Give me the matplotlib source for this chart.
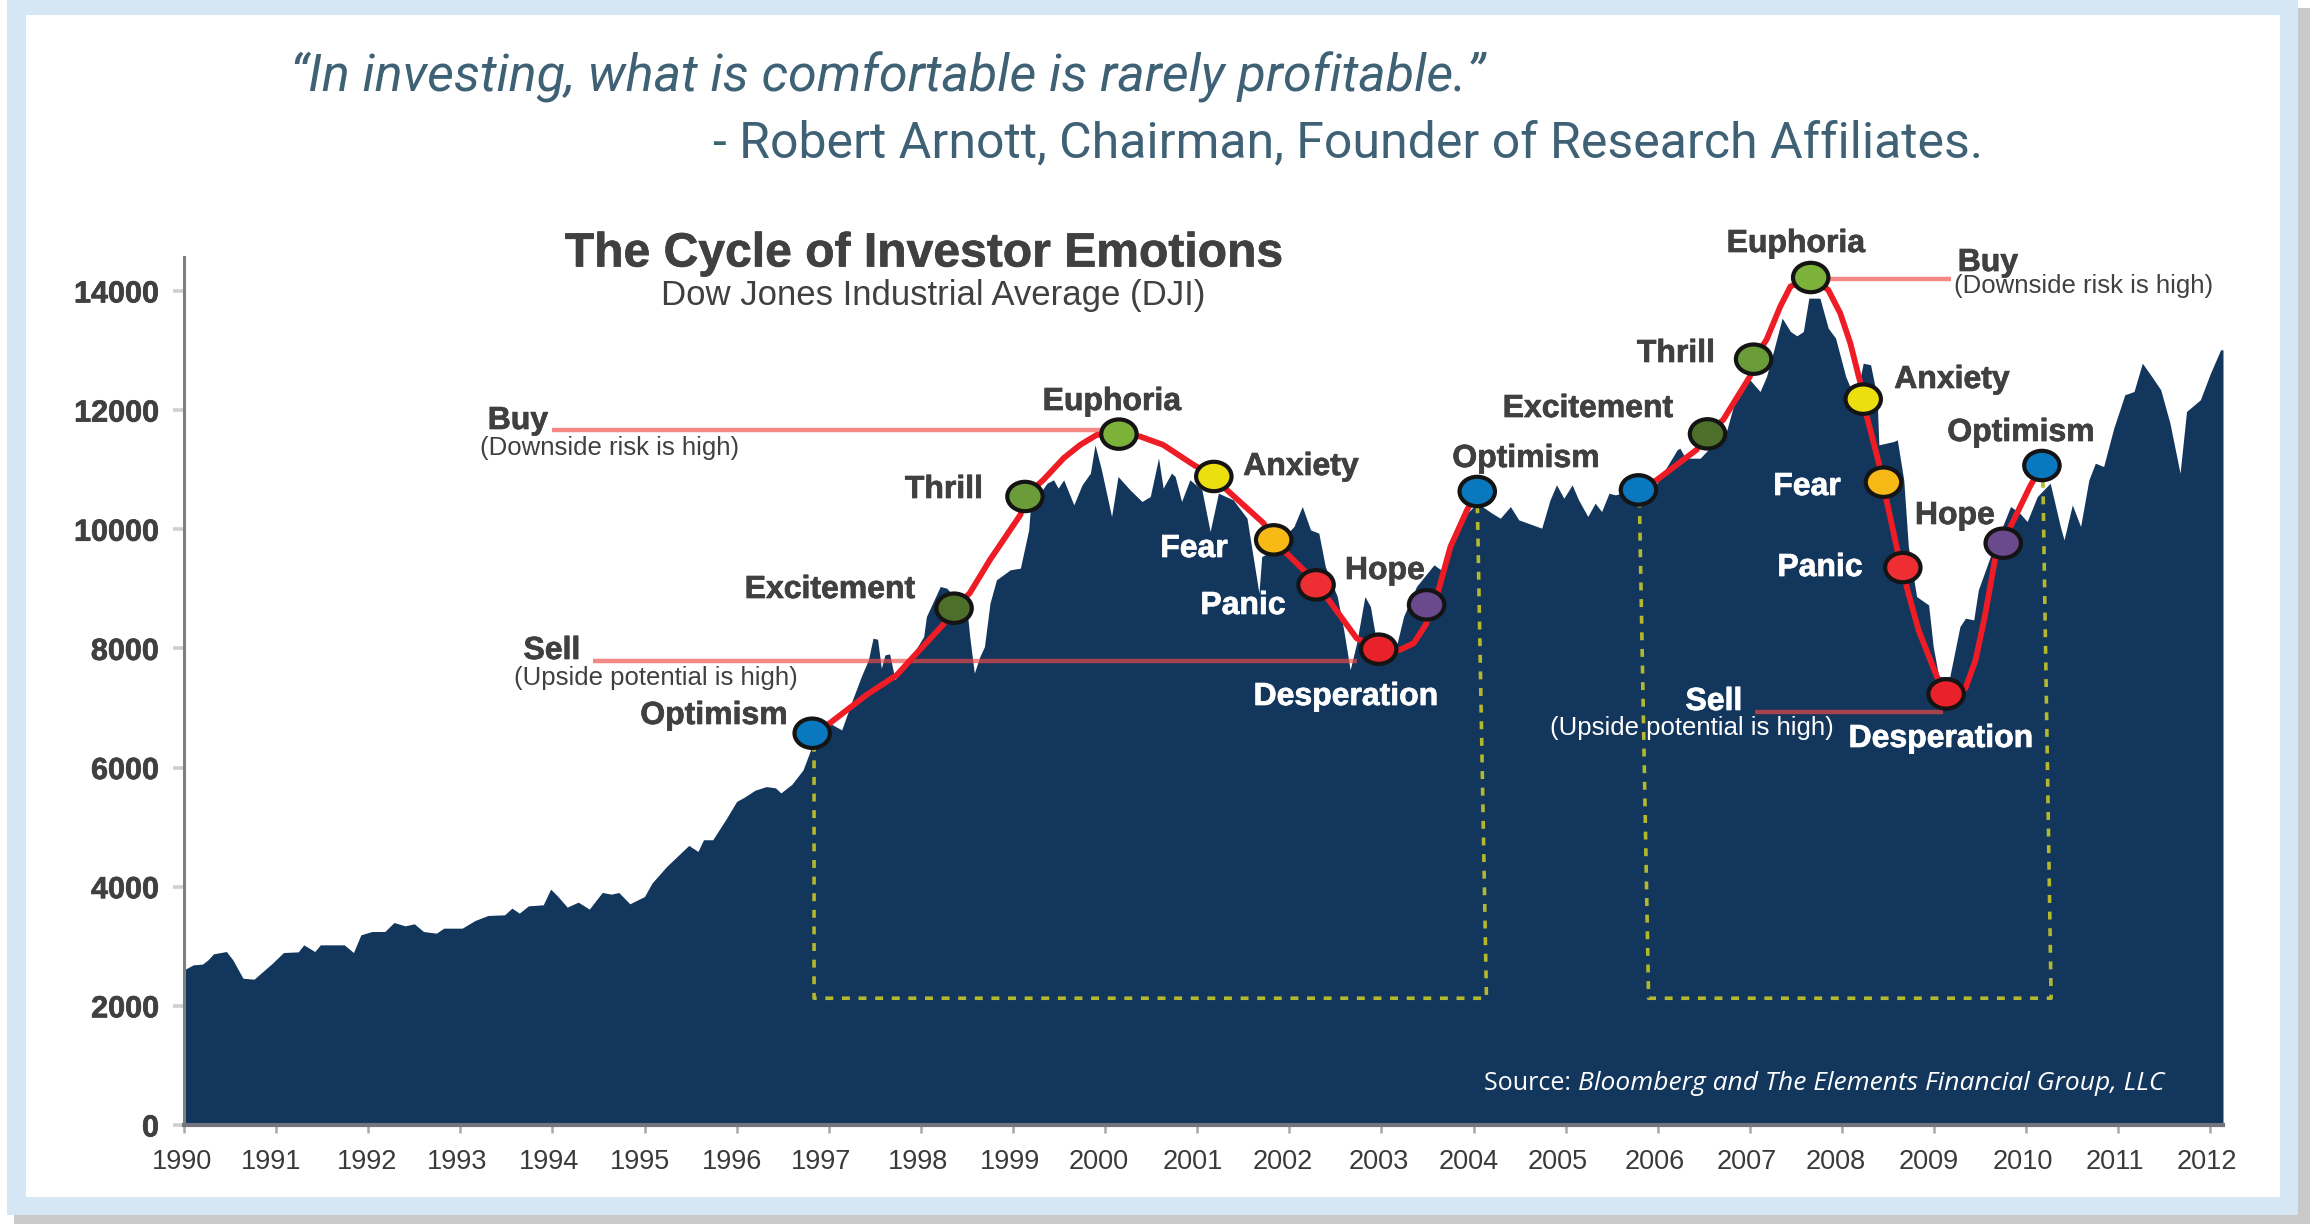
import matplotlib
matplotlib.use('Agg')
import matplotlib.pyplot as plt
import matplotlib.patheffects as pe
from matplotlib.patches import Rectangle
from matplotlib.path import Path
from matplotlib.transforms import Affine2D, ScaledTranslation

W, H = 2310, 1224

dji_years = [1990.0,1990.1,1990.2,1990.26,1990.32,1990.46,1990.53,1990.64,1990.76,1990.96,1991.08,1991.24,1991.3,1991.42,1991.48,1991.74,1991.84,1991.92,
 1992.04,1992.18,1992.28,1992.4,1992.5,1992.6,1992.74,1992.82,1993.02,1993.16,1993.3,1993.48,1993.56,1993.64,1993.74,1993.9,1993.98,
 1994.06,1994.16,1994.28,1994.4,1994.54,1994.64,1994.72,1994.84,1995.0,1995.08,1995.24,1995.48,1995.58,1995.64,1995.74,1995.88,1996.0,
 1996.08,1996.2,1996.32,1996.42,1996.48,1996.6,1996.72,1996.83,1997.01,1997.14,1997.25,1997.36,1997.43,1997.48,1997.53,1997.57,1997.61,1997.66,1997.72,1997.79,1997.92,
 1998.03,1998.06,1998.21,1998.28,1998.5,1998.53,1998.58,1998.64,1998.69,1998.75,1998.82,1998.97,1999.08,1999.17,1999.19,1999.37,1999.44,1999.49,1999.55,1999.66,1999.75,1999.84,1999.89,1999.96,
 2000.07,2000.14,2000.27,2000.4,2000.49,2000.58,2000.63,2000.72,2000.76,2000.83,2000.92,2001.05,2001.14,2001.23,2001.39,2001.54,2001.67,2001.7,2001.77,
 2002.05,2002.14,2002.23,2002.32,2002.39,2002.52,2002.59,2002.66,2002.73,2002.82,2002.88,2002.93,2003.17,2003.24,2003.38,2003.57,2003.67,2003.75,2003.93,
 2004.04,2004.2,2004.29,2004.4,2004.49,2004.74,2004.83,2004.9,2004.98,2005.07,2005.14,2005.24,2005.32,2005.39,2005.47,2005.54,2005.99,
 2006.21,2006.24,2006.3,2006.46,2006.75,2006.82,2007.0,2007.11,2007.18,2007.26,2007.35,2007.44,2007.51,2007.58,2007.64,2007.76,2007.85,2007.93,
 2008.04,2008.13,2008.2,2008.23,2008.31,2008.38,2008.4,2008.56,2008.6,2008.67,2008.72,2008.81,2008.94,2008.99,2009.05,2009.17,2009.28,2009.34,2009.43,2009.48,2009.61,2009.83,2009.93,
 2010.01,2010.12,2010.26,2010.37,2010.41,2010.5,2010.59,2010.68,2010.75,2010.84,2010.95,2011.07,2011.17,2011.26,2011.35,2011.46,2011.56,2011.67,2011.74,2011.89,2012.0,2012.11,2012.136]
dji_values = [2604,2688,2700,2772,2873,2912,2772,2464,2447,2716,2895,2906,3024,2912,3024,3024,2895,3192,
 3248,3248,3399,3343,3377,3248,3220,3304,3304,3433,3517,3528,3640,3556,3679,3696,3959,
 3836,3657,3741,3623,3903,3875,3903,3713,3836,4060,4340,4693,4592,4788,4788,5124,5432,
 5500,5620,5680,5660,5574,5720,5960,6408,6744,6632,7108,7556,7807,8171,8154,7667,7891,7908,7472,7695,7919,
 8199,8535,9039,9011,8647,8199,7584,7863,8031,8759,9151,9319,9347,9990,10382,10774,10830,10690,10830,10410,10746,10942,11417,10998,
 10214,10886,10662,10466,10550,11194,10690,10942,10886,10466,10830,10662,9962,10606,10494,10186,8927,9542,9598,
 10046,10382,9990,9934,9375,8871,8311,7640,8087,8871,8703,8255,8087,8535,9039,9403,9291,9766,10270,
 10438,10270,10185,10381,10158,10018,10493,10745,10521,10745,10493,10214,10437,10297,10605,10577,10773,
 11333,11361,11193,11193,11669,12060,12508,12312,12564,13012,13544,13320,13247,13320,13879,13879,13376,13208,
 12564,12228,12564,12788,12760,12229,11417,11473,11501,10829,9710,8870,8730,8031,7527,7527,8367,8507,8479,8982,9542,10382,10270,
 10130,10550,10773,10046,9822,10410,10046,10829,11109,11053,11697,12257,12313,12788,12592,12341,11781,10941,11977,12173,12620,13012,13012]

cycle1_years = [1996.82,1997.01,1997.41,1997.74,1997.92,1998.24,1998.36,1998.53,1998.75,1999.08,1999.13,1999.33,1999.55,1999.73,1999.91,2000.15,2000.38,2000.63,2000.96,2001.18,2001.32,2001.72,2001.83,2001.97,2002.19,2002.29,2002.44,2002.73,2002.97,2003.2,2003.35,2003.48,2003.62,2003.75,2003.93,2004.04]
cycle1_values = [6576,6744,7220,7556,7863,8395,8675,8927,9487,10242,10550,10830,11194,11417,11585,11597,11557,11417,11082,10886,10662,10102,9822,9598,9263,9067,8787,8171,7987,7975,8087,8395,8983,9710,10326,10634]
cycle2_years = [2005.79,2005.99,2006.42,2006.54,2006.71,2007.0,2007.04,2007.18,2007.33,2007.44,2007.66,2007.85,2007.98,2008.09,2008.2,2008.27,2008.4,2008.49,2008.6,2008.72,2008.83,2009.03,2009.13,2009.34,2009.45,2009.55,2009.66,2009.75,2009.83,2010.04,2010.17]
cycle2_values = [10661,10829,11333,11601,11837,12564,12855,13180,13740,14075,14226,14019,13628,13124,12452,11893,11109,10438,9654,8926,8311,7527,7236,7331,7807,8535,9486,9766,10046,10717,11070]

stage_names = ['Optimism','Excitement','Thrill','Euphoria','Anxiety','Fear','Panic','Desperation','Hope','Optimism']
stage_colors = ['#0a78bf','#4d6f2a','#6a9c3a','#7db23a','#ecdf10','#f7b916','#ee2e33','#e8212a','#6a4a8c','#0a78bf']
stage1_years = [1996.82,1998.36,1999.13,2000.15,2001.18,2001.83,2002.29,2002.97,2003.49,2004.04]
stage1_values = [6576,8675,10550,11597,10886,9822,9067,7987,8731,10634]
stage2_years = [2005.79,2006.54,2007.04,2007.66,2008.23,2008.45,2008.66,2009.13,2009.75,2010.17]
stage2_values = [10661,11601,12855,14226,12184,10790,9357,7236,9766,11070]

year_ticks = list(range(1990, 2013))
value_ticks = [0,2000,4000,6000,8000,10000,12000,14000]

NAVY = '#13365d'
DARK = '#404040'
QUOTE = '#3f6175'
OLIVE = '#b3b82c'
RED = '#ee1c25'

fig = plt.figure(figsize=(W/100, H/100), dpi=100, facecolor='white')

def frect(x0, y0, x1, y1, color):
    fig.add_artist(Rectangle((x0/W, 1-y1/H), (x1-x0)/W, (y1-y0)/H, transform=fig.transFigure,
                             facecolor=color, edgecolor='none', zorder=-5))
frect(14, 8, W, H, '#c9c9c9')
frect(7, 0, 2298, 1215, '#d5e7f4')
frect(26, 15, 2280, 1197, 'white')

ax = fig.add_axes([184/W, 1-1125/H, (2223-184)/W, (1125-257)/H], facecolor='none')
ax.set_xlim(1990, 2012.136)
ax.set_ylim(0, 14570)

ax.fill_between(dji_years, dji_values, 0, color=NAVY, linewidth=0, zorder=1)

# dashed guide boxes
dash = dict(color=OLIVE, lw=2.6, ls=(0, (2.2, 2.4)), zorder=2, dash_capstyle='butt')
ax.plot([1996.84, 1996.84, 2004.14, 2004.04], [6400, 2128, 2128, 10500], **dash)
ax.plot([2005.80, 2005.90, 2010.27, 2010.18], [10500, 2128, 2128, 10900], **dash)

# buy / sell rules
rule = dict(color='#f04a45', lw=3.2, alpha=0.66, zorder=3, solid_capstyle='butt')
ax.plot([1994.0, 2000.0], [11660, 11660], **rule)
ax.plot([1994.44, 2002.73], [7790, 7790], **rule)
ax.plot([2007.86, 2009.18], [14200, 14200], **rule)
ax.plot([2007.06, 2009.1], [6934, 6934], **rule)

# emotional cycle
ax.plot(cycle1_years, cycle1_values, color=RED, lw=4.2, zorder=4, solid_joinstyle='round')
ax.plot(cycle2_years, cycle2_values, color=RED, lw=4.2, zorder=4, solid_joinstyle='round')

ellipse = Path.unit_circle().transformed(Affine2D().scale(1.0, 0.83))
ax.scatter(stage1_years, stage1_values, marker=ellipse, s=25.5**2, c=stage_colors, edgecolors='#141414', linewidths=3.0, zorder=5)
ax.scatter(stage2_years, stage2_values, marker=ellipse, s=25.5**2, c=stage_colors, edgecolors='#141414', linewidths=3.0, zorder=5)

# axes furniture
for s in ('top', 'right'):
    ax.spines[s].set_visible(False)
ax.spines['left'].set_color('#7f7f7f')
ax.spines['left'].set_linewidth(2.2)
ax.spines['bottom'].set_color('#74747c')
ax.spines['bottom'].set_linewidth(3.0)
ax.spines['bottom'].set_zorder(6)
ax.set_xticks(year_ticks)
ax.set_xticklabels([str(y) for y in year_ticks], family='Liberation Sans', fontsize=19.5, color='#3a3a3a')
ax.set_yticks(value_ticks)
ax.set_yticklabels([str(v) for v in value_ticks], family='Liberation Sans', fontsize=22, fontweight='bold', color=DARK)
ax.tick_params(axis='x', length=6, width=1.8, color='#a8a8a8', pad=11)
ax.tick_params(axis='y', length=8, width=2.6, color='#cfcfcf', pad=10)
year_label_nudge = [-2,-4.5,-1.5,-3.5,-3,-4.5,-5,-7.5,-3,-3.5,-6,-4.5,-6.5,-3,-4.5,-8,-3.5,-3.5,-6,-5,-3.5,-3.5,-3.5]
for lab, n in zip(ax.get_xticklabels(), year_label_nudge):
    lab.set_transform(lab.get_transform() + ScaledTranslation(n/100, 0, fig.dpi_scale_trans))
for lab in ax.get_yticklabels():
    lab.set_path_effects([pe.withStroke(linewidth=0.5, foreground=DARK)])

def ptext(x, y, s, size=23, color=DARK, weight='bold', family='Liberation Sans', ha='center', style='normal'):
    t = fig.text(x/W, 1-y/H, s, fontsize=size, color=color, fontweight=weight, family=family,
                 ha=ha, va='center', fontstyle=style, zorder=10)
    if weight == 'bold':
        t.set_path_effects([pe.withStroke(linewidth=0.5, foreground=color)])

# headings
ptext(290, 77, '\u201cIn investing, what is comfortable is rarely profitable.\u201d', size=37.5, color=QUOTE,
      weight='normal', family='Roboto', ha='left', style='italic')
ptext(713, 143, '- Robert Arnott, Chairman, Founder of Research Affiliates.', size=36, color=QUOTE,
      weight='normal', family='Roboto', ha='left')
ptext(924, 254, 'The Cycle of Investor Emotions', size=34.6)
ptext(933, 296, 'Dow Jones Industrial Average (DJI)', size=25, weight='normal')

# stage labels, cycle one
ptext(714, 716, stage_names[0])
ptext(830, 590, stage_names[1])
ptext(944, 490, stage_names[2])
ptext(1112, 402, stage_names[3])
ptext(1301, 467, stage_names[4])
ptext(1194, 549, stage_names[5], color='white')
ptext(1243, 606, stage_names[6], color='white')
ptext(1346, 697, stage_names[7], color='white')
ptext(1385, 571, stage_names[8])
ptext(1526, 459, stage_names[9])
# stage labels, cycle two
ptext(1588, 409, stage_names[1])
ptext(1676, 354, stage_names[2])
ptext(1796, 244, stage_names[3])
ptext(1952, 380, stage_names[4])
ptext(1807, 487, stage_names[5], color='white')
ptext(1820, 568, stage_names[6], color='white')
ptext(1941, 739, stage_names[7], color='white')
ptext(1955, 516, stage_names[8])
ptext(2021, 433, stage_names[9])

# buy / sell labels
ptext(518, 421, 'Buy')
ptext(610, 448, '(Downside risk is high)', size=18.5, weight='normal')
ptext(552, 651, 'Sell')
ptext(656, 678, '(Upside potential is high)', size=18.5, weight='normal')
ptext(1988, 263, 'Buy')
ptext(2084, 286, '(Downside risk is high)', size=18.5, weight='normal')
ptext(1714, 702, 'Sell', color='white')
ptext(1692, 728, '(Upside potential is high)', size=18.5, weight='normal', color='white')

# source
ptext(1578, 1083, 'Source: ', size=18, color='white', weight='normal', family='Open Sans', ha='right')
ptext(1578, 1083, 'Bloomberg and The Elements Financial Group, LLC', size=19, color='white', weight='normal',
      family='Open Sans', ha='left', style='italic')

fig.savefig('out.png', dpi=100)
